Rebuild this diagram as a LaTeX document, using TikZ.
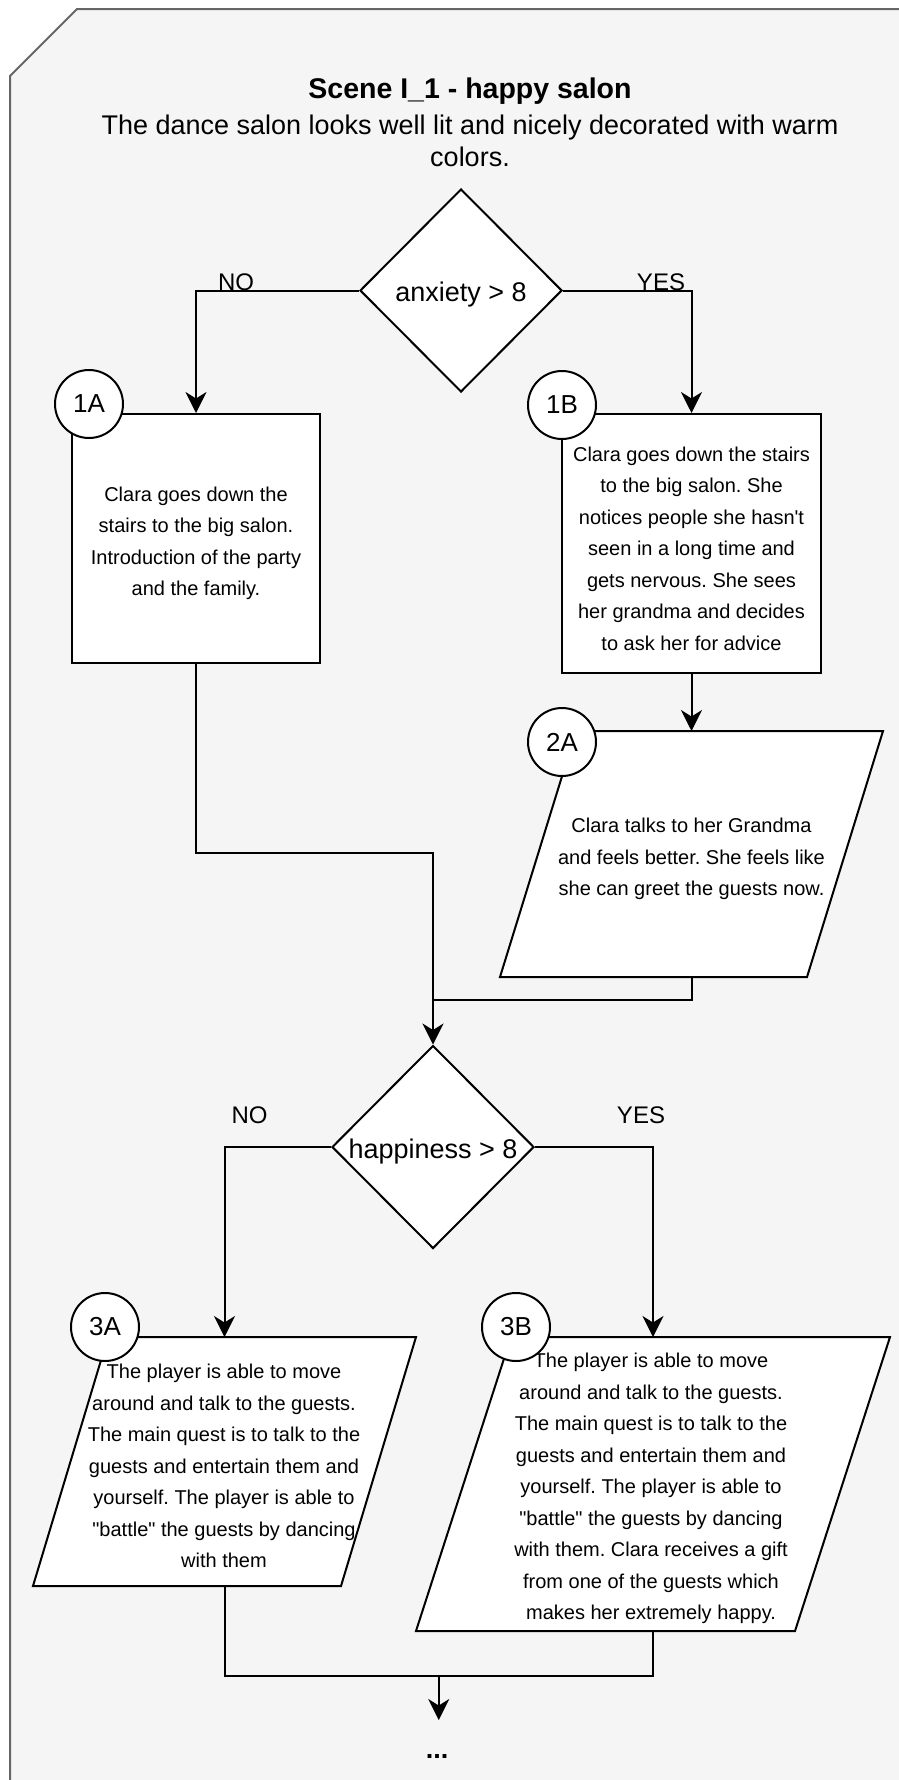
\documentclass[tikz,border=0pt]{standalone}
\usepackage{fontspec}
\setmainfont{Liberation Sans}
\usetikzlibrary{shapes.geometric,arrows.meta,calc}
\definecolor{panelfill}{HTML}{F5F5F5}
\definecolor{panelline}{HTML}{666666}
\newcommand\flowtext{\fontsize{20}{31.5}\selectfont\frenchspacing}
\begin{document}
\begin{tikzpicture}[x=1pt,y=-1pt,
  line width=2pt,
  flow/.style={draw=black, line width=2pt},
  arr/.style={flow, -{Stealth[length=21pt,width=21pt,inset=6.5pt]}},
  decision/.style={diamond, draw=black, fill=white, line width=2pt,
    minimum width=202pt, minimum height=203pt, inner sep=0pt, aspect=1},
  condtext/.style={inner sep=0pt, font=\fontsize{27}{32}\selectfont},
  stepbox/.style={rectangle, draw=black, fill=white, line width=2pt,
    inner sep=0pt},
  iobox/.style={rectangle, inner sep=0pt, outer sep=0pt},
  bodytext/.style={inner sep=0pt, align=center, font=\flowtext},
  slanted/.style={draw=black, fill=white, line width=2pt, line join=miter},
  badge/.style={circle, draw=black, fill=white, line width=2pt,
    minimum size=68pt, inner sep=0pt, font=\fontsize{26}{30}\selectfont},
  lbl/.style={anchor=base, inner sep=0pt, font=\fontsize{24}{28}\selectfont},
]
\useasboundingbox (0,0) rectangle (899,1780);

% scene panel with its clipped corner
\draw[fill=panelfill, draw=panelline, line width=2pt]
  (10,76) -- (77,9) -- (910,9) -- (910,1795) -- (10,1795) -- cycle;

% heading
\node[anchor=base, inner sep=0pt, font=\fontsize{28.5}{34}\selectfont\bfseries]
  (title) at (470,98) {Scene I\_1 - happy salon};
\node[anchor=base, inner sep=0pt, font=\fontsize{27}{32}\selectfont]
  (sub1) at (470,134) {The dance salon looks well lit and nicely decorated with warm};
\node[anchor=base, inner sep=0pt, font=\fontsize{27}{32}\selectfont]
  (sub2) at (470,166) {colors.};

% first decision
\node[decision] (anx) at (461,290.5) {};
\node[condtext] (anxt) at (461,295) {anxiety > 8};

% 1A and 1B
\node[stepbox, minimum width=248pt, minimum height=249pt] (r1A) at (196,538.5) {};
\node[bodytext] (t1A) at (196,543.5)
  {Clara goes down the\\stairs to the big salon.\\Introduction of the party\\and the family.};
\node[stepbox, minimum width=259pt, minimum height=259pt] (r1B) at (691.5,543.5) {};
\node[bodytext] (t1B) at (691.5,548.5)
  {Clara goes down the stairs\\to the big salon. She\\notices people she hasn\textquotesingle t\\seen in a long time and\\gets nervous. She sees\\her grandma and decides\\to ask her for advice};

% 2A
\node[iobox, minimum width=383pt, minimum height=246pt] (p2A) at (691.5,854) {};
\draw[slanted] ($(p2A.north west)+(76,0)$) -- (p2A.north east)
  -- ($(p2A.south east)+(-76,0)$) -- (p2A.south west) -- cycle;
\node[bodytext] (t2A) at (691.5,859)
  {Clara talks to her Grandma\\and feels better. She feels like\\she can greet the guests now.};

% second decision
\node[decision] (hap) at (433,1147) {};
\node[condtext] (hapt) at (433,1151.5) {happiness > 8};

% 3A
\node[iobox, minimum width=383pt, minimum height=249pt] (p3A) at (224.5,1461.5) {};
\draw[slanted] ($(p3A.north west)+(75,0)$) -- (p3A.north east)
  -- ($(p3A.south east)+(-75,0)$) -- (p3A.south west) -- cycle;
\node[bodytext] (t3A) at (224,1466)
  {The player is able to move\\around and talk to the guests.\\The main quest is to talk to the\\guests and entertain them and\\yourself. The player is able to\\\textquotedbl battle\textquotedbl\ the guests by dancing\\with them};

% 3B
\node[iobox, minimum width=474pt, minimum height=294pt] (p3B) at (653,1484) {};
\draw[slanted] ($(p3B.north west)+(95,0)$) -- (p3B.north east)
  -- ($(p3B.south east)+(-95,0)$) -- (p3B.south west) -- cycle;
\node[bodytext] (t3B) at (651,1488.5)
  {The player is able to move\\around and talk to the guests.\\The main quest is to talk to the\\guests and entertain them and\\yourself. The player is able to\\\textquotedbl battle\textquotedbl\ the guests by dancing\\with them. Clara receives a gift\\from one of the guests which\\makes her extremely happy.};

% continuation mark
\node[anchor=base, inner sep=0pt, font=\fontsize{27}{32}\selectfont\bfseries]
  (more) at (437,1758) {...};

% junction points
\coordinate (m1) at (433,853);
\coordinate (m2) at (433,1000);
\coordinate (m3) at (438.75,1676);
\coordinate (tail) at (438.75,1720);

% connectors
\draw[arr] (anx.west) -| (r1A.north);
\draw[arr] (anx.east) -| (r1B.north);
\draw[arr] (r1B.south) -- (p2A.north);
\draw[arr] (r1A.south) |- (m1) -- (hap.north);
\draw[flow] (p2A.south) |- (m2);
\draw[arr] (hap.west) -| (p3A.north);
\draw[arr] (hap.east) -| (p3B.north);
\draw[flow] (p3A.south) |- (m3);
\draw[flow] (p3B.south) |- (m3);
\draw[arr] (m3) -- (tail);

% branch labels
\node[lbl] (no1) at (236,290) {NO};
\node[lbl] (yes1) at (661,290) {YES};
\node[lbl] (no2) at (249.5,1123) {NO};
\node[lbl] (yes2) at (641,1123) {YES};

% step badges
\node[badge] (c1A) at (89,404) {1A};
\node[badge] (c1B) at (562,405) {1B};
\node[badge] (c2A) at (562,742) {2A};
\node[badge] (c3A) at (105,1327) {3A};
\node[badge] (c3B) at (516,1327) {3B};
\end{tikzpicture}
\end{document}
